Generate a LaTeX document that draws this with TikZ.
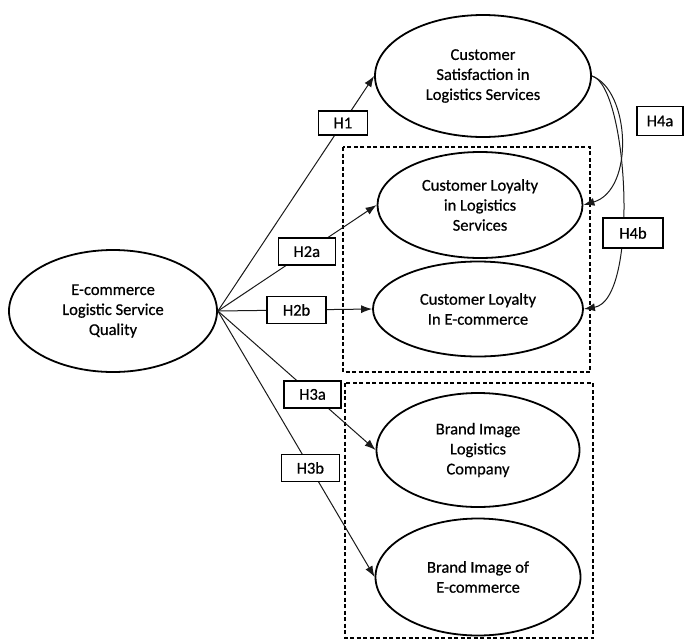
\documentclass[tikz,border=0pt]{standalone}
\usepackage{fontspec}
\setmainfont[UprightFeatures={FakeBold=0.6}]{Carlito}
\usetikzlibrary{shapes.geometric,arrows.meta}
\begin{document}
\begin{tikzpicture}[x=1pt,y=-1pt,
  every node/.style={font=\fontsize{16.5}{20}\selectfont, text=black},
  construct/.style={ellipse, draw=black, line width=1.8pt, inner sep=0pt, align=center},
  hyp/.style={draw=black, line width=1.5pt, fill=white, inner sep=0pt, minimum height=27pt},
  group/.style={draw=black, line width=1.6pt, dash pattern=on 4pt off 2.5pt},
  link/.style={draw=black!90, line width=1pt, -{Latex[length=11pt,width=8pt]}}
]
\useasboundingbox (0,0) rectangle (684,640);

% dashed groups
\draw[group] (343,147) rectangle (590,372);
\draw[group] (345,383) rectangle (593,638);

% constructs
\node[construct, minimum width=208pt, minimum height=122pt] (eq) at (113,311) {E-commerce\\Logistic Service\\Quality};
\node[construct, minimum width=216pt, minimum height=122pt] (cs) at (483,76) {Customer\\Satisfaction in\\Logistics Services};
\node[construct, minimum width=205pt, minimum height=106pt] (cll) at (480,205) {Customer Loyalty\\in Logistics\\Services};
\node[construct, minimum width=210pt, minimum height=95pt] (cle) at (478,309) {Customer Loyalty\\In E-commerce};
\node[construct, minimum width=203pt, minimum height=114pt] (bil) at (478,450) {Brand Image\\Logistics\\Company};
\node[construct, minimum width=205pt, minimum height=117pt] (bie) at (478,577) {Brand Image of\\E-commerce};

% hypothesised paths
\draw[link] (eq.east) -- node[hyp, pos=0.8, minimum width=49pt, minimum height=24pt] (h1) {H1} (cs.west);
\draw[link] (eq.east) -- node[hyp, pos=0.56, minimum width=57pt] (h2a) {H2a} (cll.west);
\draw[link] (eq.east) -- node[hyp, pos=0.51, minimum width=59pt] (h2b) {H2b} (cle.west);
\draw[link] (eq.east) -- node[hyp, pos=0.6, minimum width=57pt] (h3a) {H3a} (bil.west);
\draw[link] (eq.east) -- node[hyp, pos=0.59, minimum width=58pt] (h3b) {H3b} (bie.west);

% satisfaction -> loyalty
\draw[link] (cs.east) .. controls (630,90) and (635,190) .. (cll.east);
\draw[link] (cs.east) .. controls (628,85) and (640,300) .. (cle.east);

\node[hyp, minimum width=46pt, minimum height=29pt] (h4a) at (660,121) {H4a};
\node[hyp, minimum width=60pt, minimum height=30pt] (h4b) at (633,233) {H4b};
\end{tikzpicture}
\end{document}
